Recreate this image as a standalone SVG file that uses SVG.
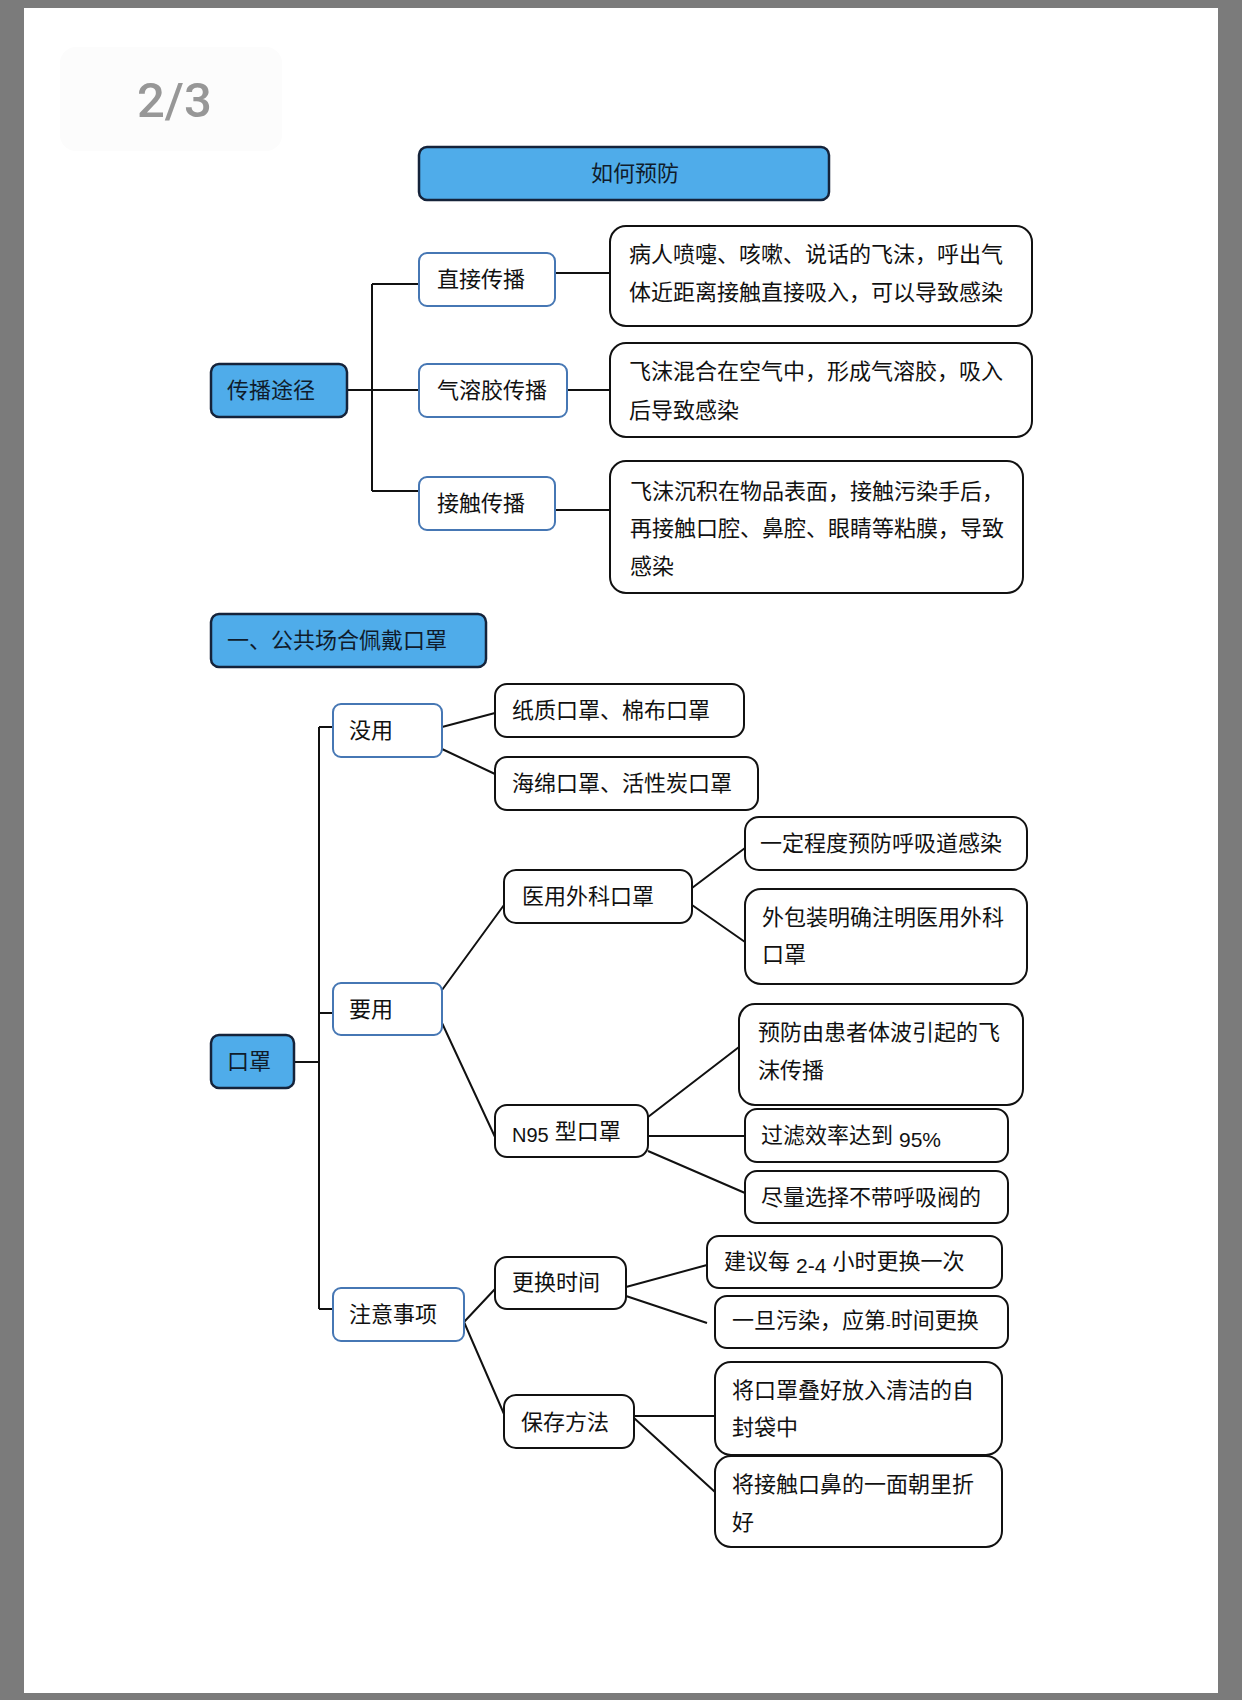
<svg xmlns="http://www.w3.org/2000/svg" width="1242" height="1700" viewBox="0 0 1242 1700">
<style>
text{font-family:"Noto Sans CJK SC","Noto Sans",sans-serif;font-size:22px;fill:#111}
.lat{font-family:"Liberation Sans",Arial,sans-serif;font-size:21px}
.blue rect{fill:#4FACEA;stroke:#15233a;stroke-width:2.5}
.blue text{fill:#0f1c2c}
.mid rect{fill:#fff;stroke:#4677b4;stroke-width:2}
.leaf rect{fill:#fff;stroke:#111;stroke-width:2}
#connectors path{fill:none;stroke:#111;stroke-width:2}
</style>
<rect x="0" y="0" width="1242" height="1700" fill="#7b7b7b"/>
<rect x="24" y="8" width="1194" height="1685" fill="#ffffff"/>
<g id="pagenum">
<rect x="60" y="47" width="222" height="104" rx="16" fill="#fcfcfc"/>
<text x="137" y="117" style="font-family:Roboto,'Liberation Sans',sans-serif;font-size:49px;font-weight:500;fill:#979797">2/3</text>
</g>
<g id="connectors">
<path d="M347 390H372M372 284V491M372 284H419M372 390H419M372 491H419"/>
<path d="M555 273H610M567 390H610M555 510H610"/>
<path d="M294 1062H319M319 727V1309M319 727H333M319 1013H333M319 1309H333"/>
<path d="M442 727L495 713M442 749L495 774"/>
<path d="M442 990L504 905M442 1023L495 1137"/>
<path d="M692 888L745 848M692 905L745 942"/>
<path d="M648 1117L739 1047M648 1136H745M648 1151L745 1193"/>
<path d="M464 1322L495 1289M464 1322L504 1414"/>
<path d="M626 1287L707 1265M626 1296L707 1323"/>
<path d="M634 1416H715M634 1418L715 1492"/>
</g>
<g id="n-title" class="blue"><rect x="419" y="147" width="410" height="53" rx="8"/><text x="635" y="181" text-anchor="middle">如何预防</text></g>
<g id="n-spread" class="blue"><rect x="211" y="364" width="136" height="53" rx="8"/><text x="227" y="398">传播途径</text></g>
<g id="n-direct" class="mid"><rect x="419" y="253" width="136" height="53" rx="8"/><text x="437" y="287">直接传播</text></g>
<g id="n-aerosol" class="mid"><rect x="419" y="364" width="148" height="53" rx="8"/><text x="437" y="398">气溶胶传播</text></g>
<g id="n-contact" class="mid"><rect x="419" y="477" width="136" height="53" rx="8"/><text x="437" y="511">接触传播</text></g>
<g id="n-direct-d" class="leaf"><rect x="610" y="226" width="422" height="100" rx="16"/><text x="629" y="262">病人喷嚏、咳嗽、说话的飞沫，呼出气</text><text x="629" y="300">体近距离接触直接吸入，可以导致感染</text></g>
<g id="n-aerosol-d" class="leaf"><rect x="610" y="343" width="422" height="94" rx="16"/><text x="629" y="379">飞沫混合在空气中，形成气溶胶，吸入</text><text x="629" y="418">后导致感染</text></g>
<g id="n-contact-d" class="leaf"><rect x="610" y="461" width="413" height="132" rx="16"/><text x="630" y="499">飞沫沉积在物品表面，接触污染手后，</text><text x="630" y="536">再接触口腔、鼻腔、眼睛等粘膜，导致</text><text x="630" y="574">感染</text></g>
<g id="n-section" class="blue"><rect x="211" y="614" width="275" height="53" rx="8"/><text x="227" y="648">一、公共场合佩戴口罩</text></g>
<g id="n-mask" class="blue"><rect x="211" y="1035" width="83" height="53" rx="8"/><text x="227" y="1069">口罩</text></g>
<g id="n-useless" class="mid"><rect x="333" y="704" width="109" height="53" rx="8"/><text x="349" y="738">没用</text></g>
<g id="n-useful" class="mid"><rect x="333" y="983" width="109" height="52" rx="8"/><text x="349" y="1017">要用</text></g>
<g id="n-notes" class="mid"><rect x="333" y="1288" width="131" height="53" rx="8"/><text x="349" y="1322">注意事项</text></g>
<g id="n-paper" class="leaf"><rect x="495" y="684" width="249" height="53" rx="12"/><text x="512" y="718">纸质口罩、棉布口罩</text></g>
<g id="n-sponge" class="leaf"><rect x="495" y="757" width="263" height="53" rx="12"/><text x="512" y="791">海绵口罩、活性炭口罩</text></g>
<g id="n-surgical" class="leaf"><rect x="504" y="870" width="188" height="53" rx="12"/><text x="522" y="904">医用外科口罩</text></g>
<g id="n-n95" class="leaf"><rect x="495" y="1105" width="153" height="52" rx="12"/><text x="512" y="1142"><tspan class="lat" style="font-size:20px">N95</tspan><tspan dx="6" dy="-3">型口罩</tspan></text></g>
<g id="n-surg-1" class="leaf"><rect x="745" y="817" width="282" height="53" rx="14"/><text x="760" y="851">一定程度预防呼吸道感染</text></g>
<g id="n-surg-2" class="leaf"><rect x="745" y="889" width="282" height="95" rx="16"/><text x="762" y="925">外包装明确注明医用外科</text><text x="762" y="962">口罩</text></g>
<g id="n-n95-1" class="leaf"><rect x="739" y="1004" width="284" height="101" rx="16"/><text x="758" y="1040">预防由患者体波引起的飞</text><text x="758" y="1078">沫传播</text></g>
<g id="n-n95-2" class="leaf"><rect x="745" y="1109" width="263" height="53" rx="12"/><text x="761" y="1143">过滤效率达到<tspan class="lat" dx="6" dy="4">95%</tspan></text></g>
<g id="n-n95-3" class="leaf"><rect x="745" y="1171" width="263" height="52" rx="12"/><text x="761" y="1205">尽量选择不带呼吸阀的</text></g>
<g id="n-time" class="leaf"><rect x="495" y="1257" width="131" height="52" rx="12"/><text x="512" y="1290">更换时间</text></g>
<g id="n-store" class="leaf"><rect x="504" y="1395" width="130" height="53" rx="12"/><text x="521" y="1430">保存方法</text></g>
<g id="n-time-1" class="leaf"><rect x="707" y="1236" width="295" height="52" rx="12"/><text x="724" y="1269">建议每<tspan class="lat" dx="6" dy="4">2-4</tspan><tspan dx="6" dy="-4">小时更换一次</tspan></text></g>
<g id="n-time-2" class="leaf"><rect x="715" y="1296" width="293" height="52" rx="12"/><text x="732" y="1328">一旦污染，应第<tspan class="lat" style="font-size:14px" dy="2">-</tspan><tspan dy="-2">时间更换</tspan></text></g>
<g id="n-store-1" class="leaf"><rect x="715" y="1362" width="287" height="93" rx="16"/><text x="732" y="1398">将口罩叠好放入清洁的自</text><text x="732" y="1435">封袋中</text></g>
<g id="n-store-2" class="leaf"><rect x="715" y="1456" width="287" height="91" rx="16"/><text x="732" y="1492">将接触口鼻的一面朝里折</text><text x="732" y="1530">好</text></g>
</svg>
